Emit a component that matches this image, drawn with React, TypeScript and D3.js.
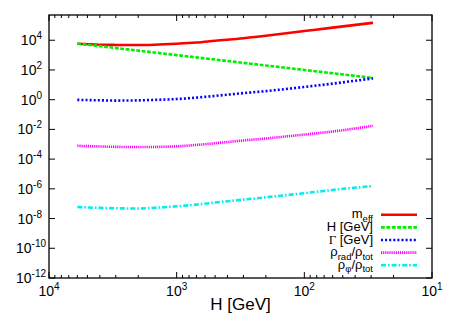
import React from "react";
import * as d3 from "d3";

// H [GeV] sample points (x axis runs from 1e4 down to 10)
const hGeV = [6000, 4000, 3000, 2000, 1500, 1000, 700, 500, 300, 200, 100, 60, 29];
const mEff = [5800, 5000, 4840, 4770, 5000, 5800, 7000, 9250, 13600, 20000, 41400, 71100, 149000];
const hubble = [6000, 4000, 3000, 2000, 1500, 1000, 700, 500, 300, 200, 100, 60, 29];
const gammaGeV = [0.97, 0.91, 0.87, 0.9, 0.97, 1.1, 1.38, 1.8, 2.77, 3.78, 7.2, 12.0, 27.3];
const rhoRadFrac = [7.9e-4, 7.1e-4, 6.7e-4, 6.5e-4, 6.6e-4, 7.3e-4, 9.0e-4, 1.17e-3, 1.8e-3, 2.45e-3, 4.5e-3, 7.2e-3, 1.75e-2];
const rhoPhiFrac = [6.0e-8, 5.2e-8, 4.9e-8, 4.76e-8, 5.3e-8, 6.7e-8, 8.7e-8, 1.2e-7, 1.88e-7, 2.69e-7, 5.1e-7, 8.4e-7, 1.54e-6];

const yTickExps = [-12, -10, -8, -6, -4, -2, 0, 2, 4];
const xTickExps = [4, 3, 2, 1];
const xMinorMult = [2, 3, 4, 5, 6, 7, 8, 9];

const series = [
  { key: "meff", values: mEff, color: "#ff0000", dash: "" },
  { key: "hub", values: hubble, color: "#00ee00", dash: "3.8,1.6" },
  { key: "gam", values: gammaGeV, color: "#0000ff", dash: "2,2.1" },
  { key: "rad", values: rhoRadFrac, color: "#ff00ff", dash: "1.2,0.9" },
  { key: "phi", values: rhoPhiFrac, color: "#00eeee", dash: "5,2,1.6,2" },
];

const W = 455;
const H = 318;
const margin = { left: 49, right: 23, top: 15, bottom: 40 };
const FONT = "'Liberation Sans', Arial, Helvetica, sans-serif";

export default function App() {
  const x = d3
    .scaleLog()
    .domain([1e4, 10])
    .range([margin.left, W - margin.right]);
  const y = d3
    .scaleLog()
    .domain([1e-12, 5e5])
    .range([H - margin.bottom, margin.top]);

  const line = d3
    .line<[number, number]>()
    .x((d) => x(d[0]))
    .y((d) => y(d[1]))
    .curve(d3.curveMonotoneX);

  const x0 = margin.left;
  const x1 = W - margin.right;
  const y0 = H - margin.bottom;
  const y1 = margin.top;

  const minorTicks = [1, 2, 3].flatMap((k) => xMinorMult.map((m) => m * Math.pow(10, k)));

  const legendY0 = 214.7;
  const legendDy = 12.65;
  const subFs = 9.5;
  const labels = [
    <>
      m<tspan dy={3.5} fontSize={subFs}>eff</tspan>
    </>,
    <>H [GeV]</>,
    <>
      <tspan fontFamily="'Liberation Serif', serif">Γ</tspan> [GeV]
    </>,
    <>
      ρ<tspan dy={3.5} fontSize={subFs}>rad</tspan>
      <tspan dy={-3.5}>/ρ</tspan>
      <tspan dy={3.5} fontSize={subFs}>tot</tspan>
    </>,
    <>
      ρ<tspan dy={3.5} fontSize={subFs}>φ</tspan>
      <tspan dy={-3.5}>/ρ</tspan>
      <tspan dy={3.5} fontSize={subFs}>tot</tspan>
    </>,
  ];

  return (
    <svg
      width={W}
      height={H}
      style={{ position: "absolute", left: 0, top: 0, background: "#fff" }}
      fontFamily={FONT}
    >
      <rect width={W} height={H} fill="#fff" />

      {/* curves */}
      {series.map((s) => (
        <path
          key={s.key}
          d={line(hGeV.map((h, i) => [h, s.values[i]] as [number, number])) || ""}
          fill="none"
          stroke={s.color}
          strokeWidth={2.6}
          strokeDasharray={s.dash || undefined}
        />
      ))}

      {/* x ticks */}
      {xTickExps.map((e) => {
        const px = x(Math.pow(10, e));
        return (
          <g key={"xt" + e}>
            <line x1={px} x2={px} y1={y0} y2={y0 - 6} stroke="#000" />
            <line x1={px} x2={px} y1={y1} y2={y1 + 6} stroke="#000" />
            <text x={px} y={296} textAnchor="middle" fontSize={14}>
              10<tspan dy={-6} fontSize={10}>{e}</tspan>
            </text>
          </g>
        );
      })}
      {minorTicks.map((v) => {
        const px = x(v);
        return (
          <g key={"xm" + v}>
            <line x1={px} x2={px} y1={y0} y2={y0 - 3} stroke="#000" />
            <line x1={px} x2={px} y1={y1} y2={y1 + 3} stroke="#000" />
          </g>
        );
      })}

      {/* y ticks */}
      {yTickExps.map((e) => {
        const py = y(Math.pow(10, e));
        const ex = String(e);
        return (
          <g key={"yt" + e}>
            <line x1={x0} x2={x0 + 6} y1={py} y2={py} stroke="#000" />
            <line x1={x1} x2={x1 - 6} y1={py} y2={py} stroke="#000" />
            <text x={ex.length > 2 ? 46 : 42} y={py + 5} textAnchor="end" fontSize={14}>
              10<tspan dy={-6} fontSize={10}>{ex}</tspan>
            </text>
          </g>
        );
      })}

      {/* frame */}
      <rect
        x={x0}
        y={y1}
        width={x1 - x0}
        height={y0 - y1}
        fill="none"
        stroke="#000"
        strokeWidth={1.3}
      />

      {/* x label */}
      <text x={(x0 + x1) / 2} y={310} textAnchor="middle" fontSize={17}>
        H [GeV]
      </text>

      {/* legend */}
      {series.map((s, i) => {
        const ly = legendY0 + i * legendDy;
        return (
          <g key={"lg" + s.key}>
            <text x={373} y={ly + 3.5} textAnchor="end" fontSize={13}>
              {labels[i]}
            </text>
            <line
              x1={381}
              x2={417}
              y1={ly}
              y2={ly}
              stroke={s.color}
              strokeWidth={2.6}
              strokeDasharray={s.dash || undefined}
            />
          </g>
        );
      })}
    </svg>
  );
}
